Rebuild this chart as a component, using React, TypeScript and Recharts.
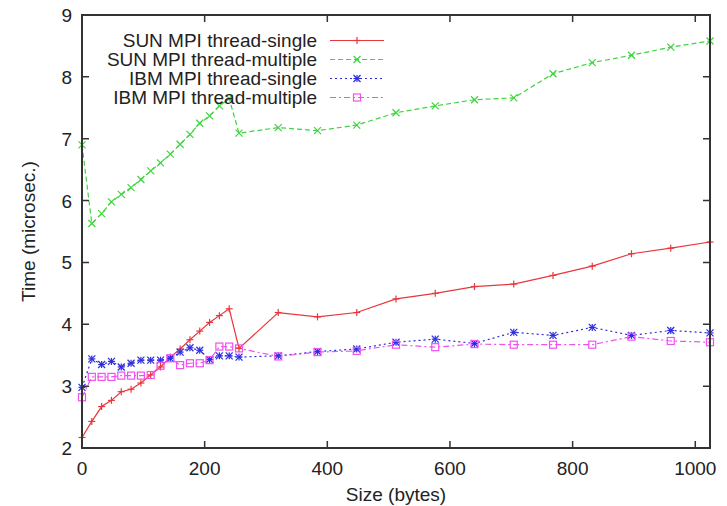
import React from 'react';
import { LineChart, Line, XAxis, YAxis, Label, CartesianGrid } from 'recharts';

// message sizes in bytes
const sizes = [0, 16, 32, 48, 64, 80, 96, 112, 128, 144, 160, 176, 192, 208, 224, 240, 256,
  320, 384, 448, 512, 576, 640, 704, 768, 832, 896, 960, 1024];

const sunSingle = [2.17, 2.43, 2.67, 2.77, 2.91, 2.95, 3.05, 3.18, 3.31, 3.47, 3.6, 3.75, 3.89, 4.03, 4.14, 4.25, 3.61,
  4.19, 4.12, 4.19, 4.41, 4.5, 4.61, 4.65, 4.79, 4.94, 5.14, 5.23, 5.33];
const sunMultiple = [6.9, 5.63, 5.79, 5.98, 6.1, 6.21, 6.34, 6.48, 6.61, 6.75, 6.91, 7.07, 7.25, 7.37, 7.53, 7.65, 7.09,
  7.18, 7.13, 7.22, 7.42, 7.53, 7.63, 7.66, 8.05, 8.23, 8.35, 8.48, 8.58];
const ibmSingle = [2.98, 3.44, 3.35, 3.4, 3.31, 3.37, 3.42, 3.42, 3.42, 3.45, 3.55, 3.62, 3.58, 3.43, 3.49, 3.49, 3.47,
  3.49, 3.56, 3.6, 3.71, 3.76, 3.69, 3.87, 3.82, 3.95, 3.82, 3.9, 3.86];
const ibmMultiple = [2.82, 3.15, 3.15, 3.15, 3.17, 3.17, 3.17, 3.18, 3.33, 3.45, 3.34, 3.37, 3.37, 3.42, 3.64, 3.64, 3.61,
  3.48, 3.55, 3.57, 3.67, 3.63, 3.68, 3.67, 3.67, 3.67, 3.8, 3.73, 3.71];

const xTicks = [0, 200, 400, 600, 800, 1000];
const yTicks = [2, 3, 4, 5, 6, 7, 8, 9];

const data = sizes.map((s, i) => ({
  size: s,
  sunSingle: sunSingle[i],
  sunMultiple: sunMultiple[i],
  ibmSingle: ibmSingle[i],
  ibmMultiple: ibmMultiple[i],
}));

const FONT = '"Liberation Sans", Arial, sans-serif';
const AXIS = '#333';
const TICK = 7;
const W = 719;
const H = 506;
const MARGIN = { top: 15, right: 17, left: 0, bottom: 0 };
const Y_AXIS_W = 74;
const X_AXIS_H = 58;
// plot edges, used for gnuplot's mirrored inward ticks and the border
const PLOT_TOP = MARGIN.top;
const PLOT_RIGHT = W - MARGIN.right;
const PLOT_LEFT = MARGIN.left + Y_AXIS_W;
const PLOT_BOTTOM = H - MARGIN.bottom - X_AXIS_H;

const series = [
  { key: 'sunSingle', name: 'SUN MPI thread-single', color: '#e8373b', dash: undefined, marker: 'plus' },
  { key: 'sunMultiple', name: 'SUN MPI thread-multiple', color: '#3fd43f', dash: '5 3', marker: 'cross' },
  { key: 'ibmSingle', name: 'IBM MPI thread-single', color: '#2e2ee0', dash: '2 3', marker: 'star' },
  { key: 'ibmMultiple', name: 'IBM MPI thread-multiple', color: '#f050f0', dash: '6 3 2 3', marker: 'square' },
];

const Marker = ({ cx, cy, type, color }: any) => {
  if (cx == null || cy == null) return null;
  const r = 3.5;
  const sw = 1.2;
  if (type === 'plus') {
    return (
      <g stroke={color} strokeWidth={sw}>
        <line x1={cx - r} y1={cy} x2={cx + r} y2={cy} />
        <line x1={cx} y1={cy - r} x2={cx} y2={cy + r} />
      </g>
    );
  }
  if (type === 'cross') {
    return (
      <g stroke={color} strokeWidth={sw}>
        <line x1={cx - r} y1={cy - r} x2={cx + r} y2={cy + r} />
        <line x1={cx - r} y1={cy + r} x2={cx + r} y2={cy - r} />
      </g>
    );
  }
  if (type === 'star') {
    return (
      <g stroke={color} strokeWidth={sw}>
        <line x1={cx - r} y1={cy} x2={cx + r} y2={cy} />
        <line x1={cx} y1={cy - r} x2={cx} y2={cy + r} />
        <line x1={cx - r} y1={cy - r} x2={cx + r} y2={cy + r} />
        <line x1={cx - r} y1={cy + r} x2={cx + r} y2={cy - r} />
      </g>
    );
  }
  return <rect x={cx - r} y={cy - r} width={2 * r} height={2 * r} fill="none" stroke={color} strokeWidth={sw} />;
};

// bottom tick also draws the matching inward tick on the top border
const BottomTick = ({ x, y, payload }: any) => (
  <g>
    <path d={`M${x},${y}V${y - TICK}M${x},${PLOT_TOP}V${PLOT_TOP + TICK}`} stroke={AXIS} strokeWidth={1.5} fill="none" />
    <text x={x} y={y + 27} textAnchor="middle" fontSize={19} fontFamily={FONT} fill="#222">{payload.value}</text>
  </g>
);

// left tick also draws the matching inward tick on the right border
const LeftTick = ({ x, y, payload }: any) => (
  <g>
    <path d={`M${x},${y}H${x + TICK}M${PLOT_RIGHT},${y}H${PLOT_RIGHT - TICK}`} stroke={AXIS} strokeWidth={1.5} fill="none" />
    <text x={x - 10} y={y + 7} textAnchor="end" fontSize={19} fontFamily={FONT} fill="#222">{payload.value}</text>
  </g>
);

// gnuplot style key: text right aligned, sample line to the right
const KeyBox = () => (
  <div style={{ position: 'absolute', top: 31, left: 76, fontFamily: FONT, fontSize: 19, color: '#222' }}>
    {series.map((s) => (
      <div key={s.key} style={{ display: 'flex', alignItems: 'center', height: 19 }}>
        <span style={{ width: 233, textAlign: 'right', lineHeight: '19px', whiteSpace: 'nowrap' }}>{s.name}</span>
        <svg width={68} height={19} style={{ marginLeft: 12 }}>
          <line x1={1} y1={9.5} x2={55} y2={9.5} stroke={s.color} strokeWidth={1.2} strokeDasharray={s.dash} />
          <Marker cx={28} cy={9.5} type={s.marker} color={s.color} />
        </svg>
      </div>
    ))}
  </div>
);

export default function App() {
  return (
    <div style={{ position: 'relative', width: W, height: H, marginTop: -8 }}>
      <LineChart width={W} height={H} data={data} margin={MARGIN}>
        {/* plot border: grid lines only on the four edges */}
        <CartesianGrid
          stroke={AXIS}
          strokeWidth={2}
          horizontalCoordinatesGenerator={({ offset }: any) => [offset.top, offset.top + offset.height]}
          verticalCoordinatesGenerator={({ offset }: any) => [offset.left, offset.left + offset.width]}
        />
        <XAxis
          dataKey="size"
          type="number"
          domain={[0, 1024]}
          ticks={xTicks}
          height={X_AXIS_H}
          tickLine={false}
          tickSize={0}
          tickMargin={0}
          tick={<BottomTick />}
          axisLine={{ stroke: AXIS, strokeWidth: 1.5 }}
          interval={0}
        >
          <Label
            content={({ viewBox }: any) => (
              <text x={viewBox.x + viewBox.width / 2} y={viewBox.y + 53} textAnchor="middle" fontSize={19} fontFamily={FONT} fill="#222">
                Size (bytes)
              </text>
            )}
          />
        </XAxis>
        <YAxis
          type="number"
          domain={[2, 9]}
          ticks={yTicks}
          width={Y_AXIS_W}
          tickLine={false}
          tickSize={0}
          tickMargin={0}
          tick={<LeftTick />}
          axisLine={{ stroke: AXIS, strokeWidth: 2 }}
          interval={0}
        >
          <Label
            content={({ viewBox }: any) => {
              const cx = 20;
              const cy = viewBox.y + viewBox.height / 2;
              return (
                <text x={cx} y={cy} transform={`rotate(-90 ${cx} ${cy})`} textAnchor="middle" dominantBaseline="central" fontSize={19} fontFamily={FONT} fill="#222">
                  Time (microsec.)
                </text>
              );
            }}
          />
        </YAxis>
        {series.map((s) => (
          <Line
            key={s.key}
            dataKey={s.key}
            name={s.name}
            type="linear"
            stroke={s.color}
            strokeWidth={1.2}
            strokeDasharray={s.dash}
            dot={(p: any) => <Marker key={`${s.key}-${p.index}`} cx={p.cx} cy={p.cy} type={s.marker} color={s.color} />}
            activeDot={false}
            isAnimationActive={false}
          />
        ))}
      </LineChart>
      {/* border overlay so the frame is always drawn */}
      <div
        style={{
          position: 'absolute',
          left: PLOT_LEFT - 1,
          top: PLOT_TOP - 1,
          width: PLOT_RIGHT - PLOT_LEFT + 2,
          height: PLOT_BOTTOM - PLOT_TOP + 2,
          border: `2px solid ${AXIS}`,
          boxSizing: 'border-box',
          pointerEvents: 'none',
        }}
      />
      <KeyBox />
    </div>
  );
}
